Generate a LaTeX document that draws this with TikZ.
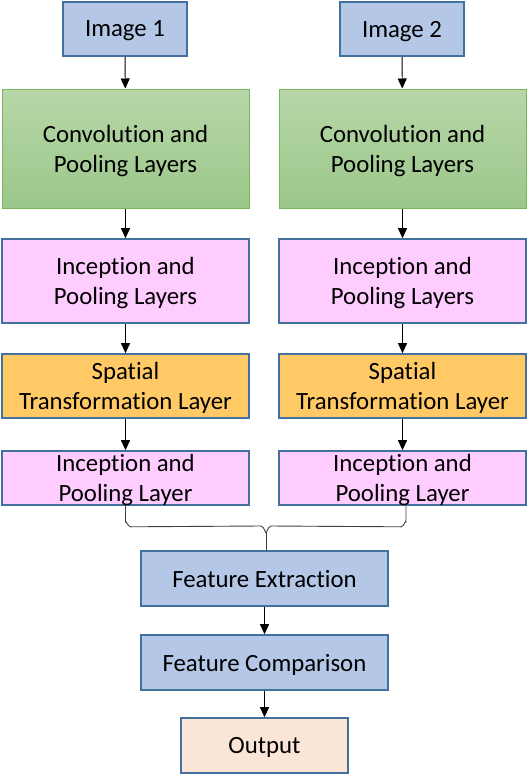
\documentclass[tikz,border=0pt]{standalone}
\usepackage{fontspec}
\setmainfont[Ligatures=NoCommon]{Carlito}
\usetikzlibrary{arrows.meta,positioning}
\definecolor{bfill}{HTML}{B4C7E7}
\definecolor{bdraw}{HTML}{41719C}
\definecolor{gtop}{HTML}{B7D7A8}
\definecolor{gbot}{HTML}{9BC78A}
\definecolor{gdraw}{HTML}{7AB55C}
\definecolor{pfill}{HTML}{FFCCFF}
\definecolor{ofill}{HTML}{FFC966}
\definecolor{outfill}{HTML}{FBE5D6}
\tikzset{
  box/.style={draw=bdraw,line width=1.6pt,align=center,inner sep=0pt,
    font=\fontsize{24.8}{30}\selectfont,text=black,text depth=0pt},
  bluebox/.style={box,fill=bfill},
  greenbox/.style={box,draw=gdraw,line width=1pt,top color=gtop,bottom color=gbot},
  pinkbox/.style={box,fill=pfill},
  orangebox/.style={box,fill=ofill},
  outbox/.style={box,fill=outfill},
  arr/.style={-{Triangle[length=10pt,width=9pt]},line width=0.9pt,black},
  brace/.style={line width=0.9pt,draw=black!75}
}
\begin{document}
\begin{tikzpicture}[x=1pt,y=-1pt]
\useasboundingbox (0,0) rectangle (528,777);
% left column
\node[bluebox,minimum width=124pt,minimum height=54pt] (I1) at (125,29) {Image 1};
\node[greenbox,minimum width=247pt,minimum height=119pt] (C1) at (125.5,148.5) {Convolution and\\Pooling Layers};
\node[pinkbox,minimum width=247pt,minimum height=84pt] (P1) at (125.5,281) {Inception and\\Pooling Layers};
\node[orangebox,minimum width=247pt,minimum height=64pt] (S1) at (125.5,386) {Spatial\\Transformation Layer};
\node[pinkbox,minimum width=247pt,minimum height=54pt] (L1) at (125.5,478) {Inception and\\Pooling Layer};
% right column
\node[bluebox,minimum width=124pt,minimum height=54pt] (I2) at (402,29) {Image 2};
\node[greenbox,minimum width=247pt,minimum height=119pt] (C2) at (402.5,148.5) {Convolution and\\Pooling Layers};
\node[pinkbox,minimum width=247pt,minimum height=84pt] (P2) at (402.5,281) {Inception and\\Pooling Layers};
\node[orangebox,minimum width=247pt,minimum height=64pt] (S2) at (402.5,386) {Spatial\\Transformation Layer};
\node[pinkbox,minimum width=247pt,minimum height=54pt] (L2) at (402.5,478) {Inception and\\Pooling Layer};
% bottom
\node[bluebox,minimum width=247pt,minimum height=55pt] (FE) at (264.5,578.5) {Feature Extraction};
\node[bluebox,minimum width=247pt,minimum height=55pt] (FC) at (264.5,662.5) {Feature Comparison};
\node[outbox,minimum width=167pt,minimum height=55pt] (O) at (264.5,745.5) {Output};
% arrows
\draw[arr] (I1) -- (C1);
\draw[arr] (C1) -- (P1);
\draw[arr] (P1) -- (S1);
\draw[arr] (S1) -- (L1);
\draw[arr] (I2) -- (C2);
\draw[arr] (C2) -- (P2);
\draw[arr] (P2) -- (S2);
\draw[arr] (S2) -- (L2);
\draw[arr] (FE) -- (FC);
\draw[arr] (FC) -- (O);
% brace
\coordinate (bt) at (266,532);
\draw[brace] (L1.south) -- ++(0,16) to[out=90,in=180] ++(5,5) -- (261,526) to[out=0,in=-90] (bt);
\draw[brace] (L2.south -| 406,0) -- ++(0,16) to[out=90,in=0] ++(-5,5) -- (271,526) to[out=180,in=-90] (bt);
\draw[brace] (bt) -- (bt |- FE.north);
\end{tikzpicture}
\end{document}
